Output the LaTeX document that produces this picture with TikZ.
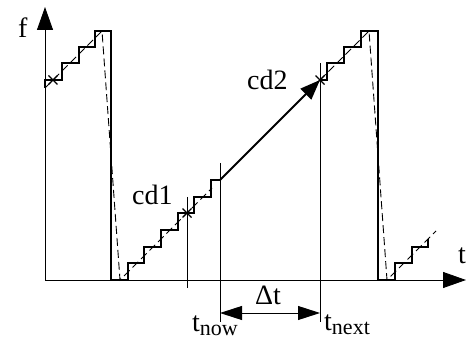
\documentclass[tikz,border=0pt]{standalone}
\usepackage{fontspec}
\setmainfont{Liberation Serif}
\usetikzlibrary{arrows.meta,calc}
\tikzset{
  thickline/.style={line width=2pt, line join=miter},
  thinline/.style={line width=0.9pt},
  dashline/.style={line width=0.9pt, dash pattern=on 8pt off 4pt},
  lbl/.style={inner sep=0pt, anchor=base west, font=\fontsize{28}{28}\selectfont},
  axisarrow/.style={-{Triangle[length=23pt,width=16pt]}},
}
\newcommand{\xmark}[1]{\draw[line width=1.2pt] ($#1+(-4.5,-4.5)$) -- ($#1+(4.5,4.5)$) ($#1+(-4.5,4.5)$) -- ($#1+(4.5,-4.5)$);}
\newcommand{\subtxt}[1]{\raisebox{-4pt}{\fontsize{22}{22}\selectfont #1}}
\begin{document}
\begin{tikzpicture}[x=1pt,y=-1pt]
\useasboundingbox (0,0) rectangle (466,339);
% coordinates
\coordinate (O) at (45,280);
\coordinate (Ytop) at (45,7);
\coordinate (Xend) at (466,280);
% axes
\draw[thinline, axisarrow] (O) -- (Ytop);
\draw[thinline, axisarrow] (O) -- (Xend);
% dashed ideal curve
\draw[dashline] (45,88) -- (102,31) -- (120,280) -- (212,188);
\draw[dashline] (320,80) -- (369,31) -- (387,280) -- (436,231);
% staircases
\draw[thickline] (45,88) -- (45,80) -- (62,80) -- (62,63) -- (79,63) -- (79,47) -- (95,47) -- (95,31) -- (111,31)
  -- (111,280) -- (127.7,280) -- (127.7,263.3) -- (144.3,263.3) -- (144.3,246.7) -- (161,246.7) -- (161,230)
  -- (177.7,230) -- (177.7,213.3) -- (194.3,213.3) -- (194.3,196.7) -- (211,196.7) -- (211,180) -- (220,180);
\coordinate (a1) at (220,180);
\coordinate (a2) at (320,80);
\draw[thickline, -{Triangle[length=20pt,width=15pt]}] (a1) -- (a2);
\draw[thickline] (320,80) -- (327,80) -- (327,63) -- (344,63) -- (344,47) -- (361,47) -- (361,31) -- (378,31)
  -- (378,280) -- (395,280) -- (395,263) -- (412,263) -- (412,247) -- (428,247) -- (428,239);
% vertical markers
\coordinate (v1t) at (187,197); \coordinate (v1b) at (187,288);
\coordinate (v2t) at (220,163); \coordinate (v2b) at (220,322);
\coordinate (v3t) at (320,63);  \coordinate (v3b) at (320,322);
\draw[thinline] (v1t) -- (v1b);
\draw[thinline] (v2t) -- (v2b);
\draw[thinline] (v3t) -- (v3b);
% marks
\xmark{(53,80)}
\xmark{(187,213)}
\xmark{(320,80)}
% delta t arrow
\coordinate (d1) at (220,313);
\coordinate (d2) at (320,313);
\draw[thinline, {Triangle[length=22pt,width=14pt]}-{Triangle[length=22pt,width=14pt]}] (d1) -- (d2);
% labels
\node[lbl] (f) at (18,38) {f};
\node[lbl] (cd1) at (132,205) {cd1};
\node[lbl] (cd2) at (247,90) {cd2};
\node[lbl] (t) at (458,263) {t};
\node[lbl] (dt) at (255,305) {Δt};
\node[lbl] (tnow) at (192,331) {t\subtxt{now}};
\node[lbl] (tnext) at (324,330) {t\subtxt{next}};
\end{tikzpicture}
\end{document}
